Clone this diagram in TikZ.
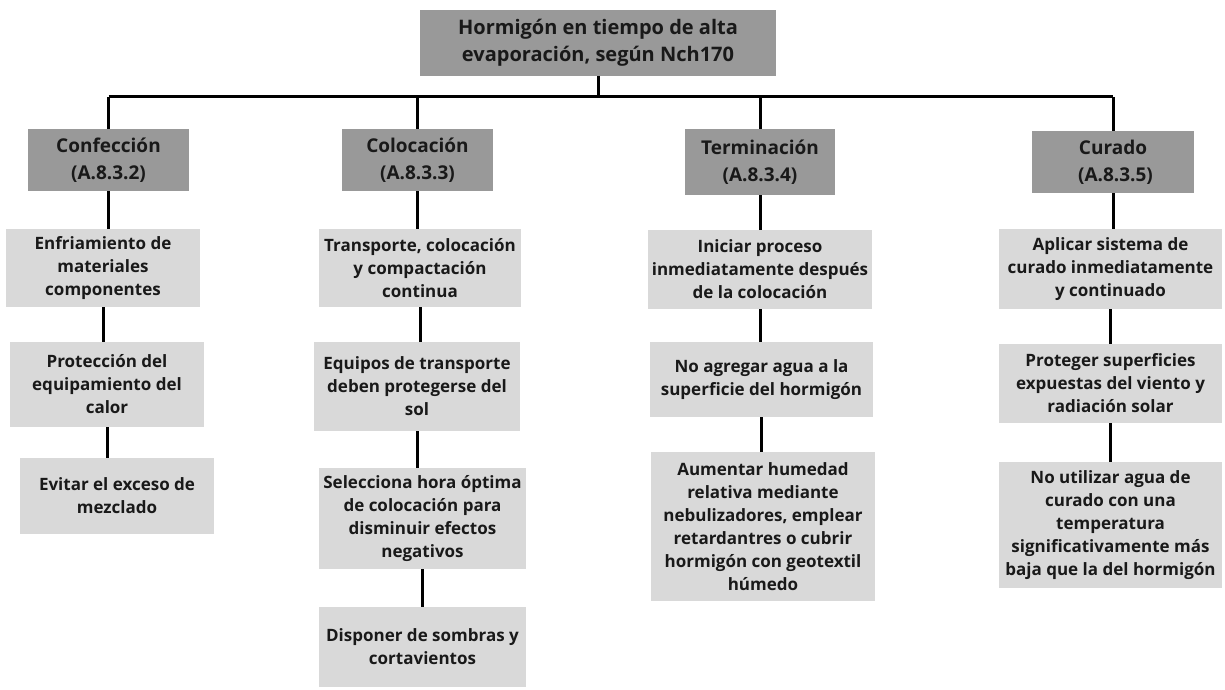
\documentclass[tikz,border=0pt]{standalone}
\usepackage{fontspec}
\setmainfont{Open Sans}
\usetikzlibrary{positioning}

\begin{document}
\begin{tikzpicture}[
    x=1pt, y=-1pt,
    % Styles
    root node/.style={rectangle, fill=black!40, text=black!90, align=center, font=\fontsize{20}{27}\selectfont\bfseries, inner sep=0pt},
    head node/.style={rectangle, fill=black!40, text=black!90, align=center, font=\fontsize{19}{27}\selectfont\bfseries, inner sep=0pt},
    item node/.style={rectangle, fill=black!15, text=black!90, align=center, font=\fontsize{17}{23}\selectfont\bfseries, inner sep=0pt},
    link/.style={line width=3pt, black}
]
\useasboundingbox (0,0) rectangle (1225,690);

% Root
\node[root node, minimum width=356, minimum height=66] (root) at (598,43) {Hormigón en tiempo de alta\\evaporación, según Nch170};

% Stages
\node[head node, minimum width=161, minimum height=62] (conf) at (108.5,160) {Confección\\(A.8.3.2)};
\node[head node, minimum width=151, minimum height=62] (col) at (417.5,160) {Colocación\\(A.8.3.3)};
\node[head node, minimum width=150, minimum height=66] (term) at (760,162) {Terminación\\(A.8.3.4)};
\node[head node, minimum width=162, minimum height=62] (cur) at (1113,162) {Curado\\\ (A.8.3.5)};

% Confeccion items
\node[item node, minimum width=194, minimum height=78] (conf1) at (103,268) {Enfriamiento de\\materiales\\componentes};
\node[item node, minimum width=194, minimum height=85] (conf2) at (107,384.5) {Protección del\\equipamiento del\\calor};
\node[item node, minimum width=194, minimum height=76] (conf3) at (117,496) {Evitar el exceso de\\mezclado};

% Colocacion items
\node[item node, minimum width=202, minimum height=78] (col1) at (420,268) {Transporte, colocación\\y compactación\\continua};
\node[item node, minimum width=206, minimum height=89] (col2) at (417,386.5) {Equipos de transporte\\deben protegerse del\\sol};
\node[item node, minimum width=207, minimum height=101] (col3) at (422.5,518.5) {Selecciona hora óptima\\de colocación para\\disminuir efectos\\negativos};
\node[item node, minimum width=207, minimum height=80] (col4) at (422.5,647) {Disponer de sombras y\\cortavientos};

% Terminacion items
\node[item node, minimum width=224, minimum height=79] (term1) at (760,269.5) {Iniciar proceso\\inmediatamente después\\de la colocación};
\node[item node, minimum width=223, minimum height=75] (term2) at (761.5,379.5) {No agregar agua a la\\superficie del hormigón};
\node[item node, minimum width=224, minimum height=149] (term3) at (763,526.5) {Aumentar humedad\\relativa mediante\\nebulizadores, emplear\\retardantres o cubrir\\hormigón con geotextil\\húmedo};

% Curado items
\node[item node, minimum width=223, minimum height=80] (cur1) at (1110.5,269) {Aplicar sistema de\\curado inmediatamente\\y continuado};
\node[item node, minimum width=223, minimum height=79] (cur2) at (1110.5,383.5) {Proteger superficies\\expuestas del viento y\\radiación solar};
\node[item node, minimum width=223, minimum height=126] (cur3) at (1110.5,525) {No utilizar agua de\\curado con una\\temperatura\\significativamente más\\baja que la del hormigón};

% Connections
\coordinate (bar) at (598,97);
\draw[link] (root.south) -- (bar);
\draw[link] (bar -| conf.north) -- (bar -| cur.north);
\foreach \n in {conf, col, term, cur}
    \draw[link] (bar -| \n.north) -- (\n.north);

\foreach \a/\b in {conf/conf1, conf1/conf2, conf2/conf3, col/col1, col1/col2, col2/col3, col3/col4, term/term1, term1/term2, term2/term3, cur/cur1, cur1/cur2, cur2/cur3}
    \draw[link] (\a.south) -- (\a.south |- \b.north);

\end{tikzpicture}
\end{document}
